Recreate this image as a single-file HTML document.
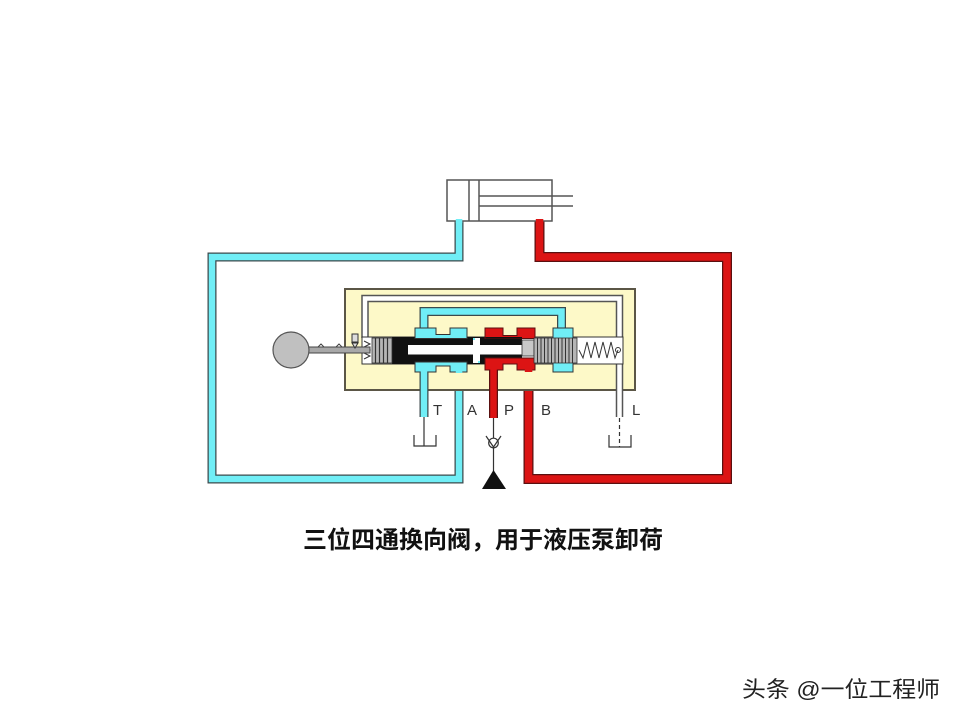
<!DOCTYPE html>
<html><head><meta charset="utf-8"><style>
html,body{margin:0;padding:0;background:#fff;}
svg{display:block;}
</style></head><body>
<svg width="960" height="720" viewBox="0 0 960 720" xmlns="http://www.w3.org/2000/svg">
<rect width="960" height="720" fill="#fff"/>

<!-- cyan external pipe -->
<path d="M459,221 V257 H212 V479 H459 V372" fill="none" stroke="#3c4a4c" stroke-width="9" stroke-linejoin="miter"/>
<path d="M459,221 V257 H212 V479 H459 V369" fill="none" stroke="#70eef6" stroke-width="6.5" stroke-linejoin="miter"/>
<!-- red external pipe -->
<path d="M539.5,221 V257 H727 V479 H528.5 V372" fill="none" stroke="#5a1010" stroke-width="10" stroke-linejoin="miter"/>
<path d="M539.5,221 V257 H727 V479 H528.5 V369" fill="none" stroke="#dc1414" stroke-width="7.5" stroke-linejoin="miter"/>

<!-- cylinder -->
<rect x="447" y="180" width="105" height="41" fill="#fff" stroke="#555" stroke-width="1.5"/>
<line x1="469" y1="180" x2="469" y2="221" stroke="#555" stroke-width="1.5"/>
<line x1="479" y1="180" x2="479" y2="221" stroke="#555" stroke-width="1.5"/>
<line x1="479" y1="196" x2="573" y2="196" stroke="#555" stroke-width="1.5"/>
<line x1="479" y1="206" x2="573" y2="206" stroke="#555" stroke-width="1.5"/>
<!-- pipe joins to cylinder -->
<rect x="455.8" y="219" width="6.5" height="4" fill="#70eef6"/>
<rect x="535.8" y="219" width="7.5" height="4" fill="#dc1414"/>

<!-- valve body -->
<rect x="345" y="289" width="290" height="101" fill="#fdf9c8" stroke="#5b5646" stroke-width="2"/>

<!-- drain channel (white) -->
<path d="M365,338 V298.5 H619.5 V417" fill="none" stroke="#555" stroke-width="7.5"/>
<path d="M365,340 V298.5 H619.5 V418" fill="none" stroke="#fff" stroke-width="4.5"/>

<!-- cyan internal channel -->
<path d="M424,330 V311.5 H561.5 V330" fill="none" stroke="#3c4a4c" stroke-width="9"/>
<path d="M424,332 V311.5 H561.5 V332" fill="none" stroke="#70eef6" stroke-width="6.5"/>

<!-- bore -->
<rect x="362" y="337" width="261" height="27" fill="#fff" stroke="#333" stroke-width="1"/>

<!-- spool body -->
<rect x="392" y="337" width="130" height="27" fill="#111"/>
<rect x="408" y="345" width="114" height="9.5" fill="#fff"/>
<rect x="473" y="338" width="7" height="25" fill="#fff"/>
<rect x="473" y="338" width="2" height="2" fill="#70eef6"/>
<rect x="478" y="361" width="2" height="2" fill="#70eef6"/>

<!-- cyan chambers -->
<path d="M415,338.5 V328 H436 V334.5 H450 V328 H467 V338.5 Z" fill="#70eef6" stroke="#333" stroke-width="1"/>
<path d="M415,362 H467 V372 H450 V366 H436 V372 H415 Z" fill="#70eef6" stroke="#333" stroke-width="1"/>
<!-- red chambers -->
<path d="M485,338.5 V328 H503 V335.5 H517 V328 H535 V338.5 Z" fill="#dc1414" stroke="#5a1010" stroke-width="1"/>
<path d="M485,358 H535 V370 H517 V364 H503 V370 H485 Z" fill="#dc1414" stroke="#5a1010" stroke-width="1"/>
<rect x="485.5" y="337" width="36.5" height="1.5" fill="#111"/>

<!-- T pipe -->
<line x1="424" y1="372" x2="424" y2="417" stroke="#3c4a4c" stroke-width="9"/>
<line x1="424" y1="369" x2="424" y2="417" stroke="#70eef6" stroke-width="6.5"/>
<!-- P pipe -->
<line x1="493.5" y1="370" x2="493.5" y2="418" stroke="#5a1010" stroke-width="9"/>
<line x1="493.5" y1="367" x2="493.5" y2="418" stroke="#dc1414" stroke-width="6.5"/>
<!-- fix joins -->
<rect x="455.8" y="366" width="6.5" height="7" fill="#70eef6"/>
<rect x="524.8" y="366" width="7.5" height="6" fill="#dc1414"/>

<!-- left spool end: land & bellows -->
<rect x="372" y="338" width="20" height="25" fill="#b5b5b5" stroke="#333" stroke-width="0.8"/>
<g stroke="#333" stroke-width="1.2">
<line x1="375.5" y1="338" x2="375.5" y2="363"/>
<line x1="379.5" y1="338" x2="379.5" y2="363"/>
<line x1="383.5" y1="338" x2="383.5" y2="363"/>
<line x1="387.5" y1="338" x2="387.5" y2="363"/>
</g>
<polyline points="364,341 370,344 364,347 370,350 364,353 370,356 364,359" fill="none" stroke="#333" stroke-width="1"/>

<!-- right cyan chamber -->
<rect x="553" y="328" width="20" height="44" fill="#70eef6" stroke="#333" stroke-width="1"/>
<!-- gray plug -->
<rect x="522" y="340" width="12" height="16" fill="#c8c8c8" stroke="#333" stroke-width="0.8"/>
<!-- right bellows -->
<rect x="534" y="338" width="43" height="25" fill="#b5b5b5" stroke="#333" stroke-width="0.8"/>
<g stroke="#333" stroke-width="1">
<line x1="537.5" y1="338" x2="537.5" y2="363"/>
<line x1="541" y1="338" x2="541" y2="363"/>
<line x1="544.5" y1="338" x2="544.5" y2="363"/>
<line x1="548" y1="338" x2="548" y2="363"/>
<line x1="551.5" y1="338" x2="551.5" y2="363"/>
<line x1="555" y1="338" x2="555" y2="363"/>
<line x1="558.5" y1="338" x2="558.5" y2="363"/>
<line x1="562" y1="338" x2="562" y2="363"/>
<line x1="565.5" y1="338" x2="565.5" y2="363"/>
<line x1="569" y1="338" x2="569" y2="363"/>
<line x1="572.5" y1="338" x2="572.5" y2="363"/>
</g>
<!-- spring -->
<polyline points="579,350 583,358 587,342 591,358 595,342 599,358 603,342 607,358 611,342 615,358 618,350" fill="none" stroke="#333" stroke-width="1"/>
<circle cx="618" cy="350" r="2.5" fill="none" stroke="#333" stroke-width="1"/>

<!-- lever -->
<rect x="306" y="347" width="64" height="6" fill="#a8a8a8" stroke="#444" stroke-width="1"/>
<polyline points="318,347 321,344 324,347 336,347 339,344 342,347" fill="none" stroke="#444" stroke-width="1"/>
<circle cx="291" cy="350" r="18" fill="#c0c0c0" stroke="#555" stroke-width="1.2"/>
<!-- detent -->
<rect x="352" y="334" width="6" height="8" fill="#ddd" stroke="#333" stroke-width="1"/>
<path d="M352,343 L358,343 L355,348 Z" fill="#ddd" stroke="#333" stroke-width="1"/>

<!-- tank symbols -->
<line x1="424" y1="417" x2="424" y2="446" stroke="#333" stroke-width="1.2"/>
<polyline points="414,435 414,446 436,446 436,435" fill="none" stroke="#333" stroke-width="1.2"/>
<line x1="619.5" y1="418" x2="619.5" y2="447" stroke="#333" stroke-width="1.2" stroke-dasharray="4,3"/>
<polyline points="609,435 609,447 631,447 631,435" fill="none" stroke="#333" stroke-width="1.2"/>

<!-- pump line, check valve, pump triangle -->
<line x1="493.5" y1="418" x2="493.5" y2="472" stroke="#333" stroke-width="1.2"/>
<circle cx="493.5" cy="443" r="4.8" fill="#fff" stroke="#333" stroke-width="1.2"/>
<polyline points="486,436 493.5,447 501,436" fill="none" stroke="#333" stroke-width="1.2"/>
<path d="M493.5,470 L482,489 L506,489 Z" fill="#111"/>

<!-- port labels -->
<g font-family="Liberation Sans, sans-serif" font-size="15" fill="#333">
<text x="433" y="415">T</text>
<text x="467" y="415">A</text>
<text x="504" y="415">P</text>
<text x="541" y="415">B</text>
<text x="632" y="415">L</text>
</g>

<!-- caption -->
<text x="303" y="548" font-family="Liberation Sans, 'Noto Sans CJK SC', sans-serif" font-size="24" font-weight="bold" fill="#111" textLength="360" lengthAdjust="spacingAndGlyphs">三位四通换向阀，用于液压泵卸荷</text>

<!-- watermark -->
<text x="742" y="697" font-family="Liberation Sans, 'Noto Sans CJK SC', sans-serif" font-size="22" fill="#222" textLength="198" lengthAdjust="spacingAndGlyphs">头条 @一位工程师</text>
</svg>
</body></html>
